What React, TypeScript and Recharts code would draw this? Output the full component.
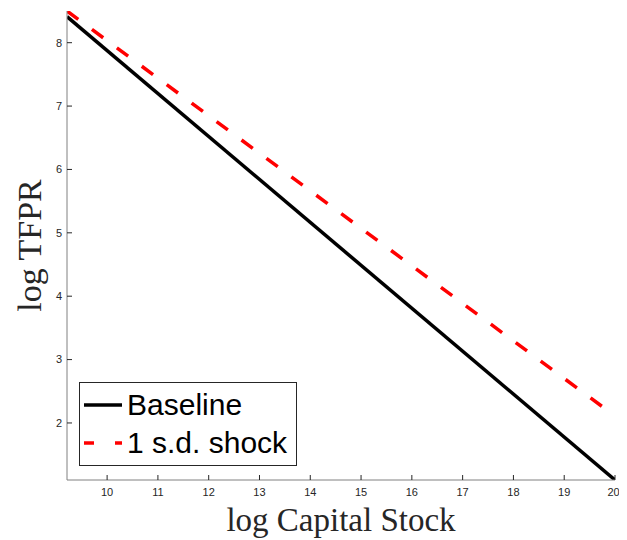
import { Label, Line, LineChart, XAxis, YAxis } from 'recharts';

// log capital stock (x) endpoints
const capital = [9.21, 20];
const baseline = [8.41, 1.1];
const shock = [8.5, 2.11];

const xTicks = [10, 11, 12, 13, 14, 15, 16, 17, 18, 19, 20];
const yTicks = [2, 3, 4, 5, 6, 7, 8];

const data = capital.map((k, i) => ({ k, baseline: baseline[i], shock: shock[i] }));

const axisColor = '#808080';
const tickStyle = { fontSize: 11, fill: '#262626', fontFamily: '"Liberation Sans", Arial, sans-serif' };
const labelFont = '"Liberation Serif", "DejaVu Serif", serif';

function LegendBox() {
  return (
    <div
      style={{
        position: 'absolute',
        left: 71,
        top: 374,
        width: 218,
        height: 84,
        border: '1px solid #262626',
        background: '#fff',
        fontFamily: '"Liberation Sans", Arial, sans-serif',
        fontSize: 30,
        color: '#000',
        boxSizing: 'border-box',
        paddingTop: 3,
      }}>
      <div style={{ display: 'flex', alignItems: 'center', height: 38 }}>
        <svg width={47} height={10}>
          <line x1={4} y1={5} x2={42} y2={5} stroke="#000" strokeWidth={3.5} />
        </svg>
        <span style={{ lineHeight: '30px' }}>Baseline</span>
      </div>
      <div style={{ display: 'flex', alignItems: 'center', height: 38 }}>
        <svg width={47} height={10}>
          <line x1={4} y1={5} x2={42} y2={5} stroke="#ff0000" strokeWidth={3.5} strokeDasharray="10 21" />
        </svg>
        <span style={{ lineHeight: '30px' }}>1 s.d. shock</span>
      </div>
    </div>
  );
}

export default function App() {
  return (
    <div style={{ position: 'relative', width: 611, height: 532 }}>
      <LineChart width={611} height={532} data={data} margin={{ top: 3, right: 4, left: 0, bottom: 8 }}>
        <XAxis
          dataKey="k"
          type="number"
          domain={[9.21, 20]}
          ticks={xTicks}
          allowDataOverflow
          height={52}
          tickSize={-5}
          tickMargin={13}
          tick={tickStyle}
          stroke={axisColor}
          tickLine={{ stroke: '#262626' }}>
          <Label
            value="log Capital Stock"
            position="insideBottom"
            offset={1}
            style={{ fontSize: 33, fontFamily: labelFont, fill: '#262626' }}
          />
        </XAxis>
        <YAxis
          type="number"
          domain={[1.1, 8.5]}
          ticks={yTicks}
          allowDataOverflow
          width={59}
          tickSize={-5}
          tickMargin={10}
          tick={tickStyle}
          stroke={axisColor}
          tickLine={{ stroke: '#262626' }}>
          <Label
            value="log TFPR"
            angle={-90}
            position="insideLeft"
            offset={21}
            style={{ fontSize: 34, fontFamily: labelFont, fill: '#262626', textAnchor: 'middle' }}
          />
        </YAxis>
        <Line
          type="linear"
          dataKey="baseline"
          stroke="#000"
          strokeWidth={3.5}
          dot={false}
          isAnimationActive={false}
        />
        <Line
          type="linear"
          dataKey="shock"
          stroke="#ff0000"
          strokeWidth={3.5}
          strokeDasharray="14 17"
          dot={false}
          isAnimationActive={false}
        />
      </LineChart>
      <LegendBox />
    </div>
  );
}
